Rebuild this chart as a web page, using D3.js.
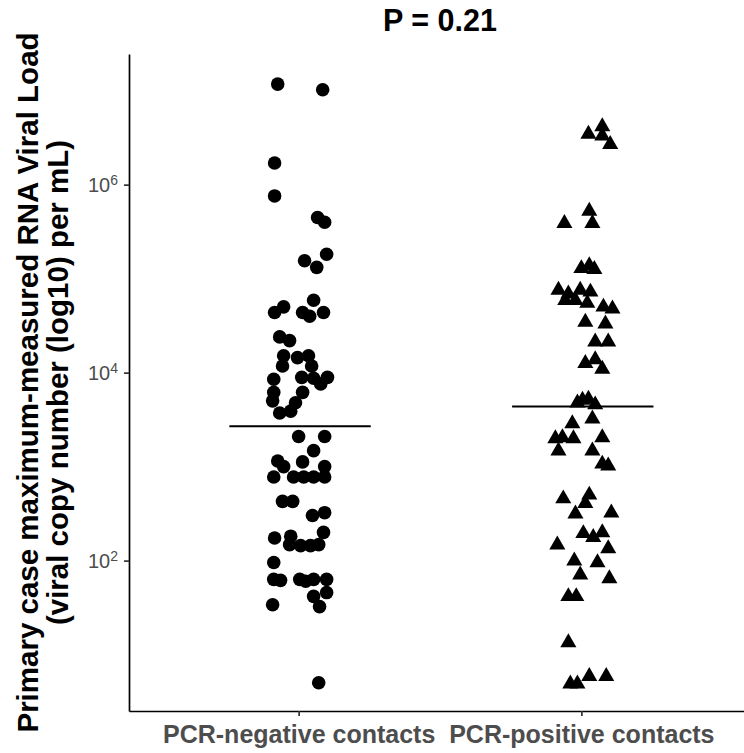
<!DOCTYPE html>
<html>
<head>
<meta charset="utf-8">
<script src="https://cdn.jsdelivr.net/npm/d3@7"></script>
<style>
  html, body { margin: 0; padding: 0; background: #fff; }
  svg { display: block; font-family: "Liberation Sans", Arial, sans-serif; }
</style>
</head>
<body>
<svg id="chart" width="744" height="753"></svg>
<script>
// ---------------- data ----------------
const categories = ["PCR-negative contacts", "PCR-positive contacts"];
const title = "P = 0.21";
const yTitleLines = ["Primary case maximum-measured RNA Viral Load", "(viral copy number (log10) per mL)"];
const yTickExponents = [2, 4, 6];

// log10 viral load of primary case, PCR-negative contacts (circles)
const negLog10 = [7.07, 7.01, 6.23, 5.88, 5.65, 5.60,
  5.19, 5.12, 5.26,
  4.64, 4.70, 4.77, 4.64, 4.60, 4.64,
  4.38, 4.34,
  4.18, 4.07, 4.16, 4.18, 4.07,
  3.93, 3.95, 3.94, 3.88, 3.95,
  3.79, 3.70, 3.79, 3.68, 3.59, 3.57,
  3.32, 3.32, 3.17,
  3.06, 3.05, 3.00, 2.89, 2.89, 2.89, 2.89, 3.00, 2.89,
  2.63, 2.63, 2.48, 2.51,
  2.24, 2.26, 2.17, 2.16, 2.16, 2.17, 2.30,
  1.98, 1.80, 1.79, 1.80, 1.78, 1.80, 1.80, 1.66, 1.62, 1.51, 1.53,
  0.70];
// horizontal jitter (category units)
const negJitter = [-0.074, 0.085, -0.085, -0.085, 0.067, 0.092,
  0.021, 0.064, 0.099,
  -0.085, -0.053, 0.053, 0.014, 0.039, 0.088,
  -0.067, -0.032,
  -0.053, -0.057, -0.004, 0.035, 0.046,
  -0.088, 0.011, 0.053, 0.078, 0.102,
  -0.088, -0.092, 0.014, -0.011, -0.028, -0.067,
  0.000, 0.092, 0.053,
  -0.074, 0.014, -0.053, -0.088, -0.018, 0.018, 0.053, 0.092, 0.092,
  -0.057, -0.021, 0.049, 0.092,
  -0.085, -0.028, -0.032, 0.007, 0.042, 0.071, 0.088,
  -0.088, -0.088, -0.064, 0.004, 0.025, 0.053, 0.099, 0.099, 0.053, 0.074, -0.092,
  0.071];

// log10 viral load of primary case, PCR-positive contacts (triangles)
const posLog10 = [6.56, 6.64, 6.54, 6.45,
  5.61, 5.74, 5.61,
  5.13, 5.16, 5.12,
  4.90, 4.86, 4.90, 4.88, 4.79, 4.79, 4.76, 4.72, 4.70,
  4.56, 4.54,
  4.35, 4.35,
  4.12, 4.16, 4.06,
  3.70, 3.73, 3.74, 3.68,
  3.48, 3.53,
  3.32, 3.33, 3.32, 3.33,
  3.19, 3.19,
  3.05, 3.03,
  2.68, 2.72, 2.63, 2.52, 2.53,
  2.31, 2.27, 2.32, 2.19, 2.15,
  2.02, 2.00,
  1.87, 1.83,
  1.64, 1.64,
  1.15,
  0.71, 0.71, 0.79, 0.79];
const posJitter = [0.025, 0.074, 0.074, 0.102,
  -0.060, 0.028, 0.039,
  0.000, 0.028, 0.046,
  -0.081, -0.046, -0.004, 0.032, -0.057, -0.021, 0.021, 0.078, 0.110,
  0.014, 0.085,
  0.049, 0.095,
  0.014, 0.049, 0.074,
  -0.014, 0.004, 0.025, 0.049,
  -0.032, 0.039,
  -0.092, -0.067, -0.028, 0.074,
  -0.081, 0.039,
  0.074, 0.095,
  -0.064, 0.028, 0.014, -0.021, 0.106,
  0.007, 0.042, 0.074, -0.085, 0.095,
  -0.025, 0.057,
  -0.004, 0.099,
  -0.046, -0.018,
  -0.046,
  -0.039, -0.014, 0.028, 0.088];

// median log10 viral load for each group
const medianLog10 = [3.43, 3.64];

// ---------------- layout ----------------
const svg = d3.select("#chart");
const panel = { left: 129, right: 751, top: 54, bottom: 711 };

const x = d3.scaleLinear().domain([0.4, 2.6]).range([panel.left, panel.right]);
const y = d3.scaleLog().domain([Math.pow(10, 0.40), Math.pow(10, 7.39)]).range([panel.bottom, panel.top]);

const groups = [
  { idx: 1, logs: negLog10, jit: negJitter, shape: "circle" },
  { idx: 2, logs: posLog10, jit: posJitter, shape: "triangle" }
];

// points
const pts = svg.append("g");
groups.forEach(g => {
  const data = g.logs.map((v, i) => ({ v: Math.pow(10, v), j: g.jit[i] }));
  if (g.shape === "circle") {
    pts.selectAll(null).data(data).enter().append("circle")
      .attr("cx", d => x(g.idx + d.j))
      .attr("cy", d => y(d.v))
      .attr("r", 6.8)
      .attr("fill", "#000");
  } else {
    const sym = d3.symbol().type(d3.symbolTriangle).size(112);
    pts.selectAll(null).data(data).enter().append("path")
      .attr("d", sym)
      .attr("transform", d => `translate(${x(g.idx + d.j)},${y(d.v) + 2})`)
      .attr("fill", "#000");
  }
});

// median lines
svg.append("g").selectAll("line").data(medianLog10).enter().append("line")
  .attr("x1", (d, i) => x(i + 1 - 0.245))
  .attr("x2", (d, i) => x(i + 1 + 0.255))
  .attr("y1", d => y(Math.pow(10, d)))
  .attr("y2", d => y(Math.pow(10, d)))
  .attr("stroke", "#000")
  .attr("stroke-width", 2);

// y axis
const yAxis = d3.axisLeft(y)
  .tickValues(yTickExponents.map(e => Math.pow(10, e)))
  .tickSize(5).tickSizeOuter(0).tickPadding(6);
const gy = svg.append("g").attr("transform", `translate(${panel.left},0)`).call(yAxis);
gy.select(".domain").attr("stroke", "#000").attr("stroke-width", 1.7);
gy.selectAll(".tick line").attr("stroke", "#333").attr("stroke-width", 1.7);
gy.selectAll(".tick text").each(function(d) {
  const t = d3.select(this);
  t.text(null).attr("fill", "#4d4d4d").attr("font-size", 20).attr("dy", "0.36em");
  t.append("tspan").text("10");
  t.append("tspan").attr("dy", "-0.55em").attr("font-size", 14).text(Math.round(Math.log10(d)));
});

// x axis
const xAxis = d3.axisBottom(x)
  .tickValues([1, 2])
  .tickFormat(d => categories[d - 1])
  .tickSize(5).tickSizeOuter(0).tickPadding(9);
const gx = svg.append("g").attr("transform", `translate(0,${panel.bottom})`).call(xAxis);
gx.select(".domain").attr("stroke", "#000").attr("stroke-width", 1.7);
gx.selectAll(".tick line").attr("stroke", "#333").attr("stroke-width", 1.7);
gx.selectAll(".tick text").attr("fill", "#4d4d4d").attr("font-size", 25).attr("font-weight", "bold");

// title
svg.append("text")
  .attr("x", (panel.left + panel.right) / 2).attr("y", 31)
  .attr("text-anchor", "middle")
  .attr("font-size", 30.5).attr("font-weight", "bold").attr("fill", "#000")
  .text(title);

// y axis title
const yMid = (panel.top + panel.bottom) / 2;
svg.append("g").selectAll("text").data(yTitleLines).enter().append("text")
  .attr("transform", (d, i) => `translate(${38 + i * 30},${yMid}) rotate(-90)`)
  .attr("text-anchor", "middle")
  .attr("font-size", 29.5).attr("font-weight", "bold").attr("fill", "#000")
  .text(d => d);
</script>
</body>
</html>
